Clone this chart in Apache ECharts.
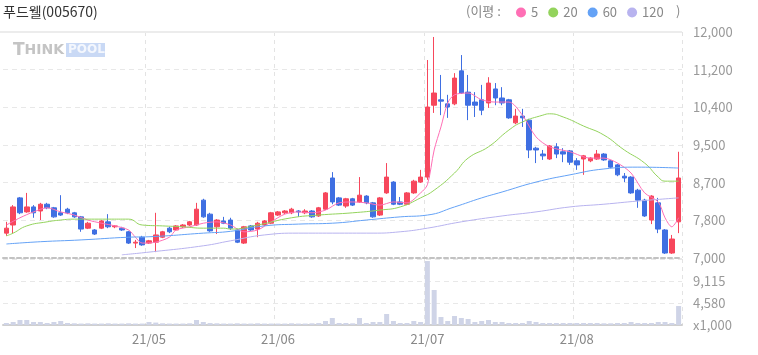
<!DOCTYPE html>
<html>
<head>
<meta charset="utf-8">
<script src="https://cdn.jsdelivr.net/npm/echarts@6/dist/echarts.min.js"></script>
<style>
html, body { margin: 0; padding: 0; background: #fff; }
#chart { width: 758px; height: 355px; }
</style>
</head>
<body>
<div id="chart"></div>
<script>
// trading days per month (2021)
var aprDays = [2, 5, 6, 7, 8, 9, 12, 13, 14, 15, 16, 19, 20, 21, 22, 23, 26, 27, 28, 29, 30];
var mayDays = [3, 4, 6, 7, 10, 11, 12, 13, 14, 17, 18, 20, 21, 24, 25, 26, 27, 28, 31];
var junDays = [1, 2, 3, 4, 7, 8, 9, 10, 11, 14, 15, 16, 17, 18, 21, 22, 23, 24, 25, 28, 29, 30];
var julDays = [1, 2, 5, 6, 7, 8, 9, 12, 13, 14, 15, 16, 19, 20, 21, 22, 23, 26, 27, 28, 29, 30];
var augDays = [2, 3, 4, 5, 6, 9, 10, 11, 12, 13, 17, 18, 19, 20, 23, 24];

var opens = [7550, 7730, 8330, 8020, 8130, 8040, 8190, 8110, 8000, 8080,
    8000, 7910, 7660, 7620, 7660, 7800, 7690, 7660, 7580, 7330,
    7460, 7330, 7350, 7460, 7660, 7620, 7690, 7730, 7730, 8280,
    7970, 7690, 7820, 7840, 7620, 7330, 7710, 7640, 7730, 7770,
    7950, 8000, 8000, 8040, 8000, 8040, 7930, 8080, 8770, 8330,
    8150, 8310, 8240, 8370, 8220, 7950, 8440, 8680, 8240, 8190,
    8440, 8680, 8790, 10380, 10500, 10410, 10410, 11140, 10670, 10450,
    10500, 10430, 10740, 10540, 10500, 9990, 10140, 10050, 9430, 9300,
    9190, 9460, 9350, 9370, 9150, 9190, 9150, 9190, 9300, 9150,
    9060, 8810, 8790, 8500, 8280, 7840, 8220, 7620, 7110, 7800];
var closes = [7660, 8130, 8000, 8130, 8000, 8190, 8110, 7910, 7950, 8000,
    7910, 7640, 7770, 7530, 7820, 7690, 7710, 7620, 7330, 7350,
    7290, 7380, 7510, 7580, 7580, 7710, 7730, 7800, 8080, 7910,
    7600, 7840, 7770, 7660, 7350, 7690, 7620, 7770, 7820, 8000,
    8020, 8040, 8080, 8020, 8040, 7910, 8110, 8440, 8240, 8170,
    8310, 8170, 8390, 8220, 7910, 8330, 8790, 8190, 8190, 8440,
    8700, 8790, 10340, 10650, 10470, 10340, 10980, 10650, 10380, 10380,
    10270, 10870, 10540, 10430, 10100, 10140, 10100, 9390, 9390, 9260,
    9480, 9300, 9300, 9120, 9060, 9260, 9210, 9300, 9170, 9010,
    8840, 8770, 8440, 8280, 7930, 8370, 7640, 7110, 7420, 8770];
var lows = [7490, 7550, 7970, 8000, 7890, 7840, 8080, 7890, 7930, 7970,
    7890, 7580, 7640, 7510, 7640, 7660, 7660, 7600, 7310, 7220,
    7270, 7310, 7130, 7440, 7550, 7600, 7660, 7710, 7710, 7890,
    7580, 7530, 7750, 7620, 7330, 7310, 7600, 7460, 7710, 7750,
    7930, 7970, 7970, 7910, 7970, 7890, 7910, 8060, 8190, 8150,
    8110, 8150, 8220, 8190, 7890, 7930, 8420, 8170, 8170, 8170,
    8420, 8660, 8730, 10210, 10160, 10100, 10380, 10630, 10050, 10120,
    10160, 10320, 10380, 10380, 10080, 9960, 9900, 9210, 9100, 9170,
    9170, 9210, 9120, 9060, 8950, 8840, 9120, 9170, 9150, 8990,
    8810, 8680, 8420, 8110, 7910, 7750, 7550, 7090, 7090, 7550];
var highs = [7800, 8170, 8350, 8440, 8170, 8220, 8220, 8130, 8390, 8110,
    8020, 7930, 7800, 7640, 7840, 7970, 7730, 7690, 7600, 7400,
    7490, 7400, 8000, 7600, 7690, 7730, 7750, 7820, 8220, 8310,
    8000, 7860, 7910, 7890, 7640, 7710, 7730, 7800, 7840, 8020,
    8040, 8060, 8110, 8060, 8080, 8060, 8130, 8460, 8900, 8350,
    8330, 8330, 8790, 8390, 8240, 8350, 9100, 8700, 8350, 8460,
    8730, 8950, 11380, 11890, 11050, 10610, 11090, 11490, 11050, 10670,
    10830, 11000, 10870, 10780, 10520, 10300, 10300, 10080, 9460, 9390,
    9500, 9540, 9430, 9390, 9210, 9280, 9230, 9390, 9320, 9170,
    9080, 8880, 8810, 8530, 8310, 8390, 8330, 7640, 7510, 9350];
// volume, x1,000 shares
var volumes = [410, 620, 1040, 1040, 620, 620, 410, 620, 830, 410,
    350, 300, 350, 300, 300, 350, 300, 300, 350, 300,
    300, 620, 500, 350, 300, 300, 300, 350, 1040, 620,
    400, 350, 300, 300, 350, 300, 300, 350, 300, 300,
    300, 300, 350, 300, 300, 350, 400, 830, 1450, 410,
    410, 350, 1450, 410, 620, 620, 2280, 830, 410, 410,
    830, 620, 13250, 7250, 1660, 830, 1860, 1450, 1240, 620,
    830, 1040, 620, 620, 410, 410, 410, 830, 620, 410,
    410, 410, 410, 410, 410, 410, 410, 410, 350, 350,
    410, 410, 620, 410, 410, 410, 620, 620, 410, 3930];

// moving averages: [candle index] / value
var ma5Idx = [0, 2, 4, 6, 8, 10, 12, 14, 16, 18, 19, 20, 22, 24, 25, 27, 29, 31, 33, 35, 37, 39, 41, 43, 45, 47, 49, 51, 53, 55, 57, 59, 61, 62, 63, 64, 65, 66, 68, 70, 72, 74, 76, 78, 80, 83, 86, 88, 90, 92, 94, 96, 97, 98, 99];
var ma5Val = [7730, 7890, 8020, 8110, 8020, 7950, 7840, 7770, 7710, 7620, 7460, 7330, 7350, 7460, 7620, 7690, 7770, 7800, 7730, 7580, 7620, 7800, 7970, 8020, 8000, 8060, 8220, 8240, 8220, 8170, 8240, 8220, 8440, 8620, 9390, 9900, 10430, 10610, 10650, 10500, 10450, 10450, 10160, 9680, 9460, 9350, 9210, 9210, 9100, 8880, 8440, 8240, 7890, 7690, 7890];
var ma20Idx = [0, 1, 3, 6, 8, 10, 15, 18, 20, 23, 26, 29, 32, 33, 37, 42, 46, 51, 55, 58, 61, 63, 66, 68, 71, 74, 76, 79, 80, 82, 85, 88, 91, 94, 96, 97, 99];
var ma20Val = [7490, 7550, 7710, 7800, 7840, 7860, 7860, 7860, 7730, 7710, 7690, 7660, 7660, 7640, 7730, 7890, 7950, 8000, 8060, 8130, 8330, 8500, 8880, 9210, 9460, 9830, 10010, 10160, 10190, 10120, 9920, 9720, 9390, 9100, 8790, 8700, 8700];
var ma60Idx = [0, 5, 11, 18, 21, 29, 33, 38, 43, 48, 53, 58, 62, 66, 70, 73, 78, 83, 88, 93, 99];
var ma60Val = [7310, 7360, 7400, 7460, 7470, 7550, 7590, 7710, 7750, 7770, 7840, 7910, 7950, 8130, 8330, 8460, 8680, 8840, 8970, 9010, 8990];
var ma120Idx = [17, 21, 29, 33, 38, 43, 48, 54, 58, 62, 67, 73, 78, 83, 88, 93, 99];
var ma120Val = [7070, 7130, 7270, 7380, 7510, 7550, 7550, 7550, 7580, 7660, 7800, 7930, 8020, 8130, 8190, 8260, 8330];

var priceLabels = ['7,000', '7,800', '8,700', '9,500', '10,400', '11,200', '12,000'];
var volLabels = ['x1,000', '4,580', '9,115', ''];

var upColor = '#f7475c';
var downColor = '#3f6fe2';
var fontFamily = '"Noto Sans CJK KR", "Noto Sans", sans-serif';

var pad = function(n) { return (n < 10 ? '0' : '') + n; };
var dates = [];
[[4, aprDays], [5, mayDays], [6, junDays], [7, julDays], [8, augDays]].forEach(function(m) {
    m[1].forEach(function(d) {
        dates.push('21/' + pad(m[0]) + '/' + pad(d));
    });
});
var isMonthStart = function(idx) {
    return idx > 0 && idx < dates.length && dates[idx].slice(0, 5) !== dates[idx - 1].slice(0, 5);
};

var candles = opens.map(function(o, i) {
    return [o, closes[i], lows[i], highs[i]];
});
var pairs = function(idx, val) {
    return idx.map(function(x, i) { return [x, val[i]]; });
};

var maSerie = function(name, color, idx, val, smooth) {
    return {
        name: name,
        type: 'line',
        xAxisIndex: 0,
        yAxisIndex: 0,
        data: pairs(idx, val),
        smooth: smooth,
        symbol: 'none',
        color: color,
        lineStyle: { width: 1, color: color },
        z: 3
    };
};

var monthSplit = {
    show: true,
    interval: function(idx) { return isMonthStart(idx); },
    lineStyle: { color: '#e3e3e3', type: [4, 4] }
};

var option = {
    animation: false,
    textStyle: { fontFamily: fontFamily },
    title: {
        text: '푸드웰(005670)',
        left: 3,
        top: 5,
        padding: 0,
        textStyle: { fontSize: 14, fontWeight: 'normal', color: '#333', fontFamily: fontFamily }
    },
    legend: {
        left: 516,
        top: 6,
        padding: 0,
        icon: 'circle',
        itemWidth: 10,
        itemHeight: 10,
        itemGap: 10,
        selectedMode: false,
        data: ['5', '20', '60', '120'],
        textStyle: { color: '#888', fontSize: 13, fontFamily: fontFamily }
    },
    graphic: [
        { type: 'text', left: 466, top: 5, style: { text: '(이평 :', fill: '#888', font: '13px ' + fontFamily } },
        { type: 'text', left: 676, top: 5, style: { text: ')', fill: '#888', font: '13px ' + fontFamily } },
        { type: 'rect', left: 0, top: 31, shape: { width: 682, height: 2 }, style: { fill: '#ececec' }, z: 10 },
        // THINKPOOL watermark
        {
            type: 'text', left: 13, top: 42, z: 0,
            style: {
                text: '{a|T}{b|HINK}',
                rich: {
                    a: { fontSize: 17, fontWeight: 'bold', fill: '#c4c4c4', fontFamily: 'DejaVu Sans' },
                    b: { fontSize: 14, fontWeight: 'bold', fill: '#c4c4c4', fontFamily: 'DejaVu Sans' }
                }
            }
        },
        { type: 'rect', left: 66, top: 43, shape: { width: 39, height: 14 }, style: { fill: '#c9d9f5' }, z: 0 },
        {
            type: 'text', left: 68, top: 44, z: 1,
            style: { text: 'POOL', fill: '#f4f7fd', font: 'bold 12px "DejaVu Sans"' }
        }
    ],
    grid: [
        { left: 3, right: 76, top: 32, height: 226 },
        { left: 3, right: 76, top: 259, height: 66 }
    ],
    xAxis: [
        {
            type: 'category',
            gridIndex: 0,
            data: dates,
            boundaryGap: true,
            axisLine: { show: true, lineStyle: { color: '#c2c2c2', width: 2, type: [4, 3] } },
            axisTick: { show: false },
            axisLabel: { show: false },
            splitLine: monthSplit
        },
        {
            type: 'category',
            gridIndex: 1,
            data: dates,
            boundaryGap: true,
            axisLine: { show: true, lineStyle: { color: '#cfcfcf', width: 2 } },
            axisTick: { show: false },
            axisLabel: {
                interval: function(idx) { return isMonthStart(idx); },
                formatter: function(v) { return v.slice(0, 5); },
                color: '#888',
                fontSize: 13,
                margin: 8
            },
            splitLine: monthSplit
        }
    ],
    yAxis: [
        {
            type: 'value',
            gridIndex: 0,
            position: 'right',
            min: 7000,
            max: 12000,
            interval: 5000 / 6,
            axisLine: { show: false },
            axisTick: { show: false },
            axisLabel: {
                color: '#999',
                fontSize: 13,
                margin: 11,
                formatter: function(v) {
                    return priceLabels[Math.round((v - 7000) / (5000 / 6))] || '';
                }
            },
            splitLine: { lineStyle: { color: '#e8e8e8', type: [5, 4] } }
        },
        {
            type: 'value',
            gridIndex: 1,
            position: 'right',
            min: 0,
            max: 13672,
            interval: 13672 / 3,
            axisLine: { show: false },
            axisTick: { show: false },
            axisLabel: {
                color: '#999',
                fontSize: 13,
                margin: 11,
                formatter: function(v) {
                    return volLabels[Math.round(v / (13672 / 3))] || '';
                }
            },
            splitLine: { lineStyle: { color: '#e8e8e8', type: [5, 4] } }
        }
    ],
    series: [
        {
            name: 'price',
            type: 'candlestick',
            xAxisIndex: 0,
            yAxisIndex: 0,
            data: candles,
            barWidth: 5,
            itemStyle: {
                color: upColor,
                color0: downColor,
                borderColor: upColor,
                borderColor0: downColor,
                borderWidth: 1
            },
            z: 2
        },
        maSerie('5', '#ff6fb5', ma5Idx, ma5Val, 0.3),
        maSerie('20', '#93d35c', ma20Idx, ma20Val, true),
        maSerie('60', '#64a2f6', ma60Idx, ma60Val, true),
        maSerie('120', '#b8b3ef', ma120Idx, ma120Val, true),
        {
            name: 'volume',
            type: 'bar',
            xAxisIndex: 1,
            yAxisIndex: 1,
            data: volumes,
            barWidth: 5,
            itemStyle: { color: '#cfd4e7' }
        }
    ]
};

var mychart = echarts.init(document.getElementById('chart'));
mychart.setOption(option);
</script>
</body>
</html>
